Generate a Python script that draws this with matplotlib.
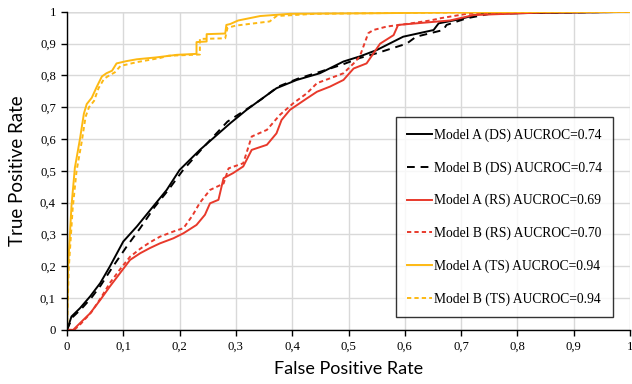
import matplotlib
matplotlib.use("Agg")
import matplotlib.pyplot as plt
from matplotlib.ticker import FuncFormatter, MultipleLocator

# ---- data ----
ts_a_fpr = [0, 0.002, 0.008, 0.014, 0.023, 0.030, 0.035, 0.044, 0.053, 0.062, 0.070, 0.080, 0.088, 0.105, 0.124, 0.159, 0.195, 0.230, 0.230, 0.248, 0.248, 0.281, 0.283, 0.290, 0.304, 0.343, 0.396, 0.556, 0.8, 1]
ts_a_tpr = [0, 0.20, 0.39, 0.51, 0.60, 0.68, 0.71, 0.73, 0.765, 0.797, 0.807, 0.815, 0.838, 0.845, 0.851, 0.857, 0.865, 0.868, 0.905, 0.907, 0.93, 0.932, 0.959, 0.962, 0.973, 0.987, 0.994, 0.996, 1.0, 1.0]

ts_b_fpr = [0, 0.003, 0.010, 0.017, 0.026, 0.033, 0.039, 0.048, 0.056, 0.066, 0.075, 0.085, 0.095, 0.124, 0.165, 0.180, 0.236, 0.236, 0.281, 0.285, 0.300, 0.36, 0.372, 0.44, 0.6, 0.85, 1]
ts_b_tpr = [0, 0.19, 0.38, 0.50, 0.59, 0.67, 0.70, 0.72, 0.76, 0.79, 0.80, 0.81, 0.83, 0.842, 0.855, 0.862, 0.866, 0.915, 0.917, 0.95, 0.957, 0.97, 0.987, 0.994, 0.997, 1.0, 1.0]

ds_a_fpr = [0, 0.008, 0.023, 0.041, 0.059, 0.076, 0.1, 0.124, 0.153, 0.177, 0.2, 0.236, 0.29, 0.319, 0.343, 0.372, 0.408, 0.449, 0.491, 0.52, 0.55, 0.597, 0.651, 0.66, 0.692, 0.734, 0.84, 1]
ds_a_tpr = [0, 0.042, 0.068, 0.105, 0.147, 0.199, 0.278, 0.325, 0.388, 0.44, 0.503, 0.566, 0.65, 0.692, 0.723, 0.76, 0.786, 0.807, 0.844, 0.86, 0.88, 0.922, 0.943, 0.964, 0.975, 0.994, 0.997, 1.0]

ds_b_fpr = [0, 0.01, 0.025, 0.043, 0.06, 0.08, 0.106, 0.13, 0.155, 0.18, 0.205, 0.24, 0.285, 0.32, 0.345, 0.375, 0.41, 0.45, 0.49, 0.52, 0.55, 0.603, 0.62, 0.668, 0.674, 0.71, 0.751, 0.85, 1]
ds_b_tpr = [0, 0.04, 0.065, 0.10, 0.14, 0.195, 0.262, 0.32, 0.385, 0.44, 0.50, 0.57, 0.655, 0.695, 0.725, 0.765, 0.79, 0.812, 0.835, 0.855, 0.87, 0.90, 0.922, 0.943, 0.959, 0.98, 0.994, 0.998, 1.0]

rs_a_fpr = [0, 0.011, 0.023, 0.041, 0.059, 0.076, 0.094, 0.112, 0.13, 0.147, 0.165, 0.189, 0.207, 0.23, 0.245, 0.254, 0.269, 0.278, 0.295, 0.313, 0.328, 0.355, 0.372, 0.381, 0.396, 0.426, 0.444, 0.467, 0.491, 0.509, 0.532, 0.556, 0.58, 0.588, 0.62, 0.68, 0.722, 0.84, 1]
rs_a_tpr = [0, 0, 0.021, 0.052, 0.094, 0.136, 0.178, 0.22, 0.241, 0.257, 0.272, 0.288, 0.304, 0.33, 0.362, 0.398, 0.409, 0.477, 0.493, 0.514, 0.566, 0.582, 0.618, 0.66, 0.692, 0.728, 0.749, 0.765, 0.786, 0.822, 0.838, 0.90, 0.927, 0.959, 0.964, 0.973, 0.99, 0.998, 1.0]

rs_b_fpr = [0, 0.013, 0.025, 0.043, 0.06, 0.076, 0.094, 0.112, 0.13, 0.147, 0.165, 0.19, 0.207, 0.223, 0.236, 0.254, 0.278, 0.287, 0.313, 0.328, 0.355, 0.378, 0.402, 0.426, 0.444, 0.467, 0.491, 0.509, 0.52, 0.535, 0.544, 0.568, 0.603, 0.645, 0.663, 0.71, 0.85, 1]
rs_b_tpr = [0, 0, 0.02, 0.055, 0.10, 0.147, 0.19, 0.23, 0.255, 0.275, 0.293, 0.31, 0.32, 0.36, 0.40, 0.44, 0.46, 0.508, 0.524, 0.608, 0.629, 0.676, 0.713, 0.744, 0.776, 0.791, 0.807, 0.838, 0.86, 0.933, 0.943, 0.954, 0.962, 0.973, 0.98, 0.994, 0.999, 1.0]

labels = ["Model A (DS) AUCROC=0.74", "Model B (DS) AUCROC=0.74",
          "Model A (RS) AUCROC=0.69", "Model B (RS) AUCROC=0.70",
          "Model A (TS) AUCROC=0.94", "Model B (TS) AUCROC=0.94"]

BLACK = "#000000"
RED = "#E8392B"
GOLD = "#FDB913"

fig = plt.figure(figsize=(6.32, 3.84), dpi=100)
ax = fig.add_axes([0.106, 0.141, 0.891, 0.828])

lw = 1.4
l1, = ax.plot(ds_a_fpr, ds_a_tpr, color=BLACK, lw=lw, label=labels[0])
l2, = ax.plot(ds_b_fpr, ds_b_tpr, color=BLACK, lw=lw, label=labels[1])
l2.set_dashes([4, 3])
l3, = ax.plot(rs_a_fpr, rs_a_tpr, color=RED, lw=lw, label=labels[2])
l4, = ax.plot(rs_b_fpr, rs_b_tpr, color=RED, lw=lw, label=labels[3])
l4.set_dashes([2.2, 1.6])
l5, = ax.plot(ts_a_fpr, ts_a_tpr, color=GOLD, lw=lw, label=labels[4])
l6, = ax.plot(ts_b_fpr, ts_b_tpr, color=GOLD, lw=lw, label=labels[5])
l6.set_dashes([2.2, 1.6])

ax.set_xlim(0, 1)
ax.set_ylim(0, 1)
ax.xaxis.set_major_locator(MultipleLocator(0.1))
ax.yaxis.set_major_locator(MultipleLocator(0.1))

def fmt(v, pos):
    s = f"{v:.1f}"
    if s.endswith(".0"):
        s = s[:-2]
    return s.replace(".", ",")

ax.xaxis.set_major_formatter(FuncFormatter(fmt))
ax.yaxis.set_major_formatter(FuncFormatter(fmt))

ax.grid(True, color="#D9D9D9", lw=1.0)
ax.set_axisbelow(True)
for s in ["top", "right"]:
    ax.spines[s].set_visible(False)
ax.spines["left"].set_color("black")
ax.spines["bottom"].set_color("black")
ax.spines["left"].set_linewidth(1.0)
ax.spines["bottom"].set_linewidth(1.0)
ax.axhline(1.0, color="#A6A6A6", lw=1.0, zorder=0.5)

ax.tick_params(axis="both", direction="out", length=4, width=1, color="black",
               labelsize=9.2, pad=4)
for t in ax.get_xticklabels() + ax.get_yticklabels():
    t.set_fontfamily("Liberation Serif")

ax.set_xlabel("False Positive Rate", fontfamily="Lato", fontsize=13, labelpad=6)
ax.set_ylabel("True Positive Rate", fontfamily="Lato", fontsize=13.5, labelpad=10)

leg = ax.legend(handles=[l1, l2, l3, l4, l5, l6], loc="lower right",
                bbox_to_anchor=(0.970, 0.041), borderaxespad=0,
                prop={"family": "Liberation Serif", "size": 9.8},
                frameon=True, fancybox=False, edgecolor="black",
                handlelength=1.85, handletextpad=0.15, labelspacing=1.42,
                borderpad=0.8)
leg.get_frame().set_linewidth(1.0)

fig.savefig("out.png", dpi=100)
